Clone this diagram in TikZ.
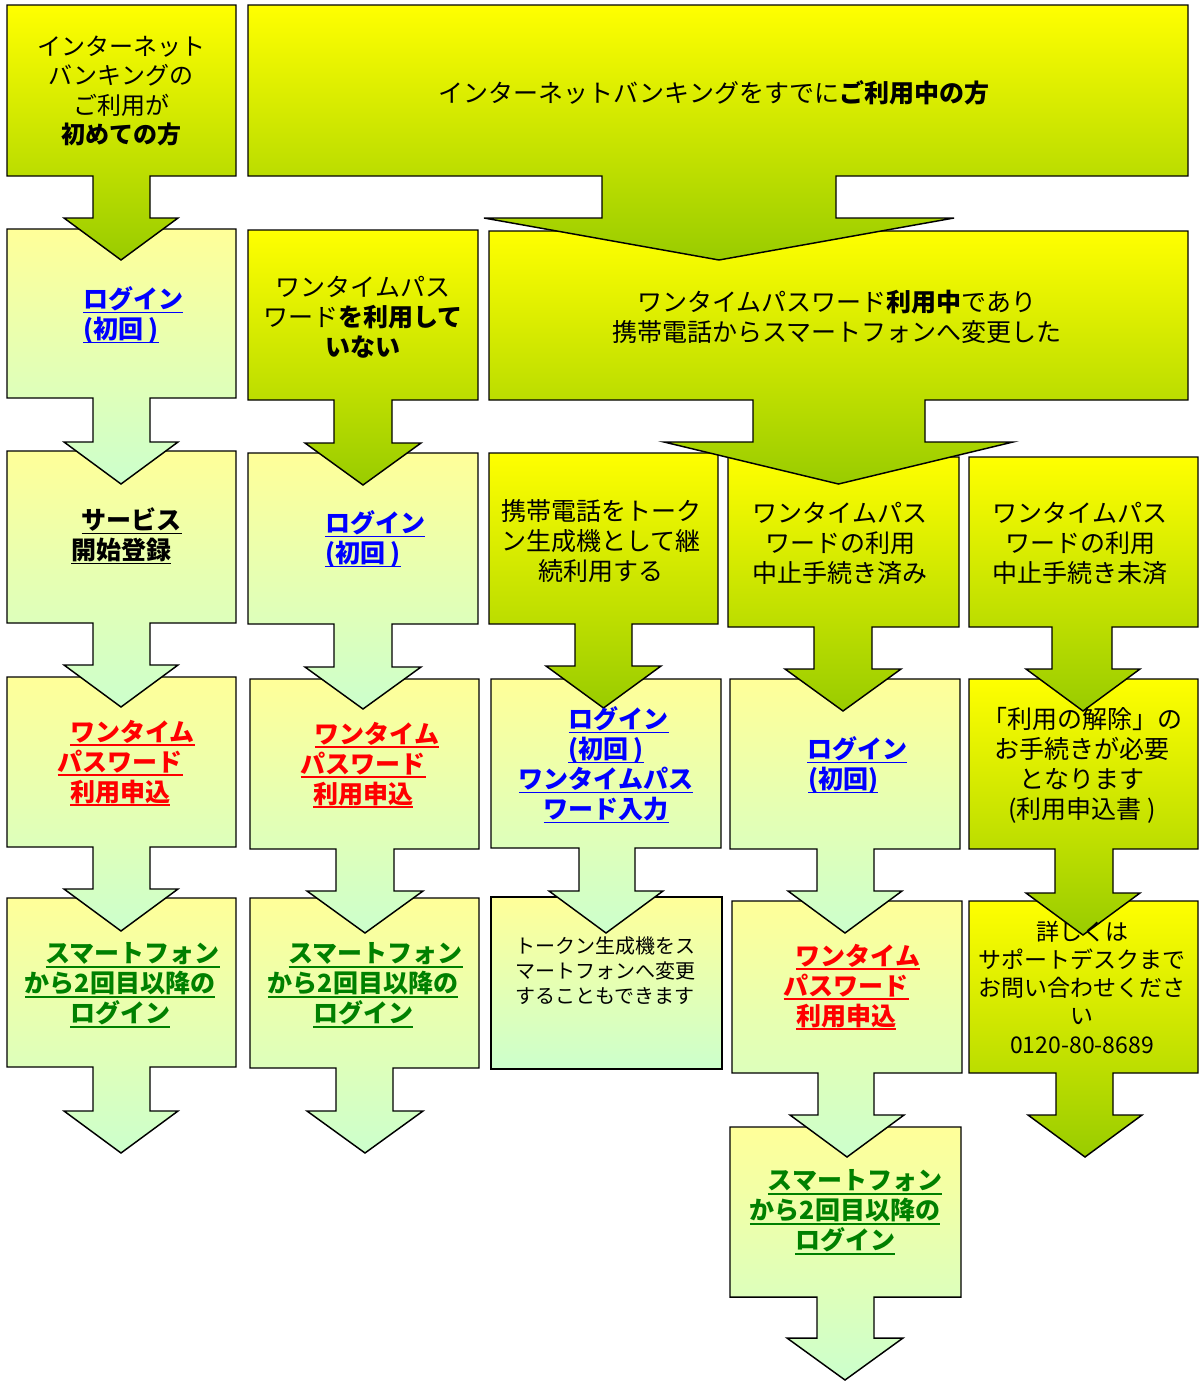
\documentclass[tikz,border=0pt]{standalone}
\usepackage{fontspec}
\setmainfont{Noto Sans CJK JP}
\definecolor{dkTop}{RGB}{255,255,0}
\definecolor{dkBot}{RGB}{153,204,0}
\definecolor{ltTop}{RGB}{255,255,153}
\definecolor{ltBot}{RGB}{204,255,204}
\definecolor{lnkblue}{RGB}{0,0,255}
\definecolor{lnkred}{RGB}{255,0,0}
\definecolor{lnkgreen}{RGB}{0,128,0}
\newcommand\myul[1]{\setbox0=\hbox{#1}\rlap{\rule[-0.2em]{\wd0}{1.3pt}}\box0}
\newcommand\dkco[9]{\path[dk] (#1,#2) -- (#3,#2) -- (#3,#4) -- (#6,#4) -- (#6,#7) -- (#9,#7) -- ({(#8+#9)/2},{#7+42}) -- (#8,#7) -- (#5,#7) -- (#5,#4) -- (#1,#4) -- cycle;}
\newcommand\ltco[9]{\path[lt] (#1,#2) -- (#3,#2) -- (#3,#4) -- (#6,#4) -- (#6,#7) -- (#9,#7) -- ({(#8+#9)/2},{#7+42}) -- (#8,#7) -- (#5,#7) -- (#5,#4) -- (#1,#4) -- cycle;}
\tikzset{
  dk/.style={draw=black, line width=1.1pt, top color=dkTop, bottom color=dkBot},
  lt/.style={draw=black, line width=1.1pt, top color=ltTop, bottom color=ltBot},
  lbl/.style={align=center, inner sep=0pt, text=black, font=\fontsize{18.75pt}{22.5pt}\selectfont},
  lnk/.style={lbl, font=\fontsize{18.75pt}{22.5pt}\selectfont\bfseries},
  small/.style={font=\fontsize{15pt}{18.75pt}\selectfont},
  mid/.style={font=\fontsize{17.25pt}{21.2pt}\selectfont},
}
\begin{document}
\begin{tikzpicture}[x=0.75pt,y=-0.75pt]
\useasboundingbox (0,0) rectangle (1200,1381);
% shapes, drawn from the bottom row upwards so that each arrowhead lies on the box below it
\ltco{730}{1127}{961}{1297}{817}{874}{1338}{787}{903}
\ltco{7}{898}{236}{1067}{93}{150}{1111}{64}{178}
\ltco{250}{898}{479}{1068}{336}{393}{1111}{307}{423}
\path[lt] (491,897) rectangle (722,1069);
\ltco{732}{901}{962}{1073}{818}{874}{1115}{790}{904}
\dkco{969}{901}{1198}{1073}{1056}{1113}{1115}{1028}{1142}
\ltco{7}{677}{236}{847}{93}{150}{889}{64}{178}
\ltco{250}{679}{479}{849}{336}{394}{891}{307}{423}
\ltco{491}{679}{721}{848}{579}{635}{891}{549}{663}
\ltco{730}{679}{960}{849}{817}{874}{891}{788}{902}
\dkco{969}{679}{1198}{849}{1055}{1113}{893}{1026}{1140}
\ltco{7}{451}{236}{623}{93}{150}{665}{64}{178}
\ltco{248}{453}{478}{624}{334}{392}{667}{305}{421}
\dkco{489}{453}{718}{624}{575}{632}{666}{546}{661}
\dkco{728}{457}{959}{627}{814}{872}{669}{785}{901}
\dkco{969}{457}{1198}{627}{1052}{1112}{669}{1026}{1140}
\ltco{7}{229}{236}{398}{93}{150}{442}{64}{178}
\dkco{248}{230}{478}{400}{334}{392}{443}{305}{421}
\dkco{489}{231}{1188}{400}{753}{925}{442}{664}{1013}
\dkco{7}{5}{236}{176}{93}{150}{218}{64}{178}
\dkco{248}{5}{1188}{176}{602}{836}{218}{484}{954}
% texts
\node[lbl, font=\fontsize{18pt}{22.2pt}\selectfont] (tA) at (121,91) {インターネット\\バンキングの\\ご利用が\\\textbf{初めての方}};
\node[lbl] (tB) at (714,93) {インターネットバンキングをすでに\textbf{ご利用中の方}};
\node[lnk, text=lnkblue] (tA2) at (121,315) {\hspace*{18pt}\myul{ログイン}\\\myul{(初回 )}};
\node[lbl] (tC) at (363,317) {ワンタイムパス\\ワード\textbf{を利用して}\\\textbf{いない}};
\node[lbl] (tD) at (837,317) {ワンタイムパスワード\textbf{利用中}であり\\携帯電話からスマートフォンへ変更した};
\node[lnk] (tA3) at (121,536) {\hspace*{16pt}\myul{サービス}\\\myul{開始登録}};
\node[lnk, text=lnkblue] (tC2) at (363,539) {\hspace*{18pt}\myul{ログイン}\\\myul{(初回 )}};
\node[lbl] (tE) at (601,541) {携帯電話をトーク\\ン生成機として継\\続利用する};
\node[lbl] (tF) at (840,543) {ワンタイムパス\\ワードの利用\\中止手続き済み};
\node[lbl] (tG) at (1080,543) {ワンタイムパス\\ワードの利用\\中止手続き未済};
\node[lnk, text=lnkred] (tA4) at (120,763) {\hspace*{19pt}\myul{ワンタイム}\\\myul{パスワード}\\\myul{利用申込}};
\node[lnk, text=lnkred] (tC3) at (363,765) {\hspace*{21pt}\myul{ワンタイム}\\\myul{パスワード}\\\myul{利用申込}};
\node[lnk, text=lnkblue] (tE2) at (606,765) {\hspace*{19pt}\myul{ログイン}\\\myul{(初回 )}\\\myul{ワンタイムパス}\\\myul{ワード入力}};
\node[lnk, text=lnkblue] (tF2) at (843,765) {\hspace*{21pt}\myul{ログイン}\\\myul{(初回)}};
\node[lbl] (tG2) at (1082,765) {「利用の解除」の\\お手続きが必要\\となります\\(利用申込書 )};
\node[lnk, text=lnkgreen] (tA5) at (120,985) {\hspace*{19pt}\myul{スマートフォン}\\\myul{から2回目以降の}\\\myul{ログイン}};
\node[lnk, text=lnkgreen] (tC4) at (363,985) {\hspace*{19pt}\myul{スマートフォン}\\\myul{から2回目以降の}\\\myul{ログイン}};
\node[lbl, small] (tE3) at (605,971) {トークン生成機をス\\マートフォンへ変更\\することもできます};
\node[lnk, text=lnkred] (tF3) at (846,987) {\hspace*{18pt}\myul{ワンタイム}\\\myul{パスワード}\\\myul{利用申込}};
\node[lbl, mid] (tG3) at (1082,987) {詳しくは\\サポートデスクまで\\お問い合わせくださ\\い\\0120-80-8689};
\node[lnk, text=lnkgreen] (tF4) at (845,1212) {\hspace*{15pt}\myul{スマートフォン}\\\myul{から2回目以降の}\\\myul{ログイン}};
\end{tikzpicture}
\end{document}
